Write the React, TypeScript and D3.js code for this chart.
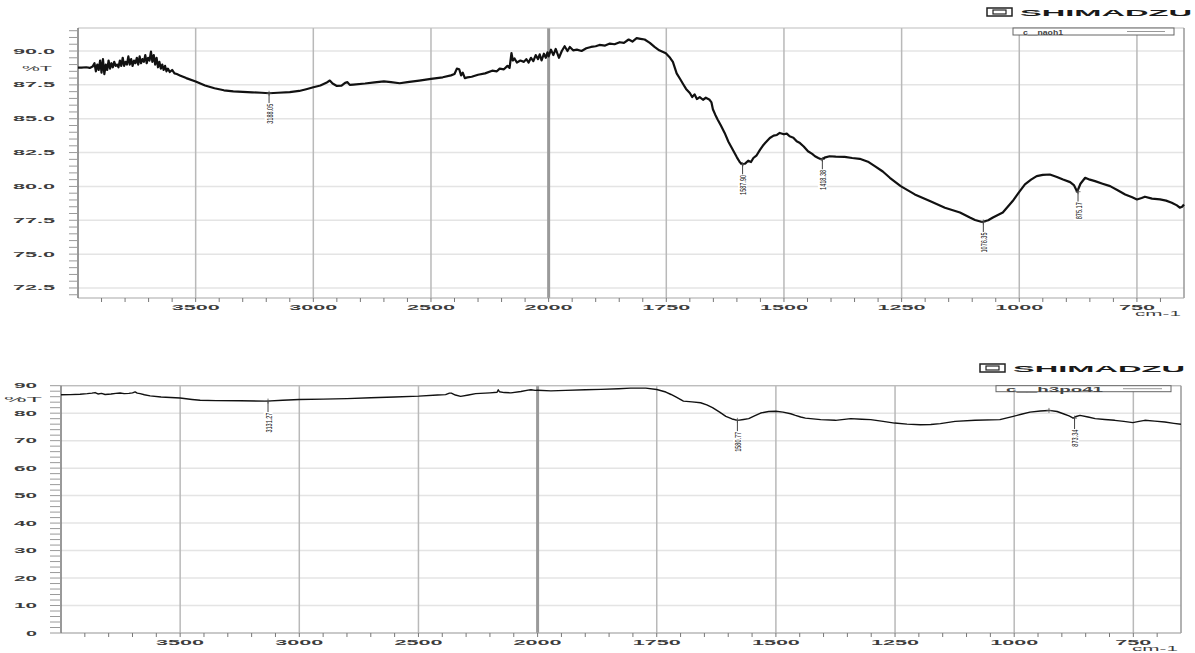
import { useEffect, useRef } from "react";
import * as d3 from "d3";

// FTIR prints (Shimadzu): [wavenumber cm-1, %T]
const naohSpectrum: [number, number][] = [
  [4000, 88.77], [3985, 88.78], [3965, 88.8], [3950, 88.75], [3938, 88.85],
  [3930, 89.1], [3924, 88.5], [3918, 89.0], [3912, 88.6], [3906, 89.3], [3900, 88.4],
  [3894, 89.4], [3888, 88.3], [3882, 89.0], [3876, 88.6], [3870, 89.3], [3864, 88.7],
  [3858, 89.1], [3852, 88.8], [3846, 89.2], [3840, 88.9], [3834, 89.0], [3828, 88.8],
  [3822, 89.3], [3816, 88.9], [3810, 89.5], [3804, 88.9], [3798, 89.2], [3792, 89.0],
  [3786, 89.6], [3780, 89.0], [3774, 89.4], [3768, 88.9], [3762, 89.3], [3756, 89.1],
  [3750, 89.5], [3744, 89.0], [3738, 89.6], [3732, 89.1], [3726, 89.4], [3720, 89.2],
  [3714, 89.7], [3708, 89.1], [3702, 89.5], [3696, 89.3], [3690, 89.95], [3684, 89.2],
  [3678, 89.7], [3672, 89.0], [3666, 89.5], [3660, 88.8], [3654, 89.2], [3648, 88.7],
  [3642, 89.0], [3636, 88.6], [3630, 88.9], [3624, 88.5], [3618, 88.7], [3610, 88.45],
  [3600, 88.6], [3590, 88.35], [3580, 88.3], [3567, 88.2], [3540, 88.0], [3500, 87.75],
  [3460, 87.45], [3420, 87.25], [3380, 87.1], [3340, 87.02], [3300, 86.98], [3260, 86.95],
  [3220, 86.92], [3188, 86.88], [3150, 86.92], [3100, 86.96], [3060, 87.05], [3030, 87.18],
  [3000, 87.32], [2970, 87.45], [2945, 87.65], [2930, 87.82], [2918, 87.6], [2900, 87.42],
  [2880, 87.45], [2865, 87.65], [2855, 87.7], [2845, 87.5], [2830, 87.52], [2780, 87.6],
  [2740, 87.68], [2700, 87.76], [2670, 87.7], [2633, 87.62], [2600, 87.7], [2550, 87.82],
  [2500, 87.94], [2450, 88.06], [2415, 88.2], [2400, 88.3], [2390, 88.7], [2380, 88.65],
  [2372, 88.2], [2365, 88.4], [2356, 88.0], [2345, 88.05], [2327, 88.1], [2300, 88.25],
  [2270, 88.35], [2240, 88.55], [2220, 88.5], [2208, 88.7], [2190, 88.65], [2175, 88.9],
  [2166, 88.75], [2158, 89.85], [2152, 89.3], [2145, 89.45], [2135, 89.15], [2120, 89.3],
  [2105, 89.2], [2095, 89.4], [2085, 89.15], [2075, 89.5], [2065, 89.25], [2055, 89.7],
  [2045, 89.4], [2038, 89.75], [2030, 89.3], [2020, 89.8], [2012, 89.5], [2005, 89.9],
  [2000, 89.6], [1995, 90.1], [1990, 89.7], [1985, 90.15], [1978, 89.5], [1972, 90.0],
  [1966, 90.35], [1960, 90.0], [1955, 90.3], [1948, 90.05], [1940, 90.1], [1930, 90.0],
  [1920, 90.2], [1910, 90.3], [1900, 90.35], [1892, 90.45], [1880, 90.4], [1870, 90.55],
  [1860, 90.5], [1849, 90.65], [1840, 90.6], [1830, 90.85], [1822, 90.7], [1813, 90.95],
  [1805, 90.9], [1796, 90.85], [1785, 90.6], [1775, 90.3], [1765, 90.05], [1751, 89.83],
  [1742, 89.5], [1736, 89.2], [1728, 88.35], [1720, 87.9], [1715, 87.6], [1708, 87.2],
  [1700, 86.9], [1695, 86.6], [1690, 86.8], [1685, 86.45], [1679, 86.6], [1672, 86.4],
  [1666, 86.55], [1658, 86.4], [1654, 86.2], [1651, 85.7], [1646, 85.3], [1641, 84.95],
  [1634, 84.5], [1626, 83.95], [1618, 83.3], [1609, 82.72], [1600, 82.15], [1594, 81.8],
  [1588, 81.62], [1582, 81.7], [1576, 81.9], [1570, 81.8], [1565, 82.1], [1558, 82.3],
  [1551, 82.7], [1545, 83.0], [1540, 83.2], [1530, 83.58], [1522, 83.75], [1515, 83.8],
  [1509, 83.95], [1500, 83.85], [1494, 83.9], [1488, 83.7], [1480, 83.6], [1473, 83.33],
  [1466, 83.2], [1458, 82.95], [1449, 82.6], [1440, 82.4], [1434, 82.23], [1427, 82.1],
  [1420, 81.99], [1412, 82.15], [1403, 82.23], [1390, 82.2], [1371, 82.18], [1355, 82.1],
  [1339, 82.04], [1320, 81.8], [1307, 81.5], [1290, 81.1], [1275, 80.64], [1252, 80.02],
  [1222, 79.41], [1190, 78.92], [1158, 78.43], [1126, 78.07], [1105, 77.7], [1094, 77.52],
  [1079, 77.37], [1066, 77.5], [1056, 77.7], [1035, 78.07], [1014, 78.92], [1000, 79.6],
  [988, 80.15], [975, 80.5], [963, 80.76], [950, 80.85], [935, 80.88], [920, 80.7],
  [907, 80.51], [892, 80.32], [884, 80.1], [877, 79.61], [870, 80.2], [860, 80.64],
  [850, 80.5], [839, 80.39], [823, 80.2], [807, 80.02], [790, 79.7], [775, 79.41],
  [760, 79.2], [750, 79.04], [740, 79.15], [733, 79.24], [718, 79.1], [701, 79.04],
  [688, 78.95], [676, 78.8], [665, 78.6], [659, 78.43], [654, 78.5], [650, 78.67],
];

const h3po4Spectrum: [number, number][] = [
  [4000, 86.7], [3960, 86.75], [3920, 86.9], [3890, 87.1], [3870, 87.3], [3857, 87.5],
  [3845, 87.0], [3830, 87.2], [3815, 86.8], [3790, 87.0], [3770, 87.2], [3752, 87.35],
  [3735, 87.1], [3715, 87.2], [3700, 87.4], [3689, 87.75], [3680, 87.3], [3668, 87.1],
  [3650, 86.7], [3626, 86.3], [3580, 85.9], [3540, 85.7], [3500, 85.5], [3450, 85.0],
  [3416, 84.7], [3350, 84.55], [3247, 84.5], [3138, 84.4], [3070, 84.7], [3000, 85.0],
  [2900, 85.1], [2800, 85.3], [2700, 85.6], [2600, 85.9], [2499, 86.2], [2420, 86.6],
  [2386, 86.75], [2370, 87.3], [2362, 87.3], [2345, 86.6], [2323, 86.1], [2290, 86.6],
  [2260, 87.1], [2200, 87.4], [2170, 87.6], [2165, 88.5], [2160, 87.8], [2140, 87.5],
  [2112, 87.4], [2070, 87.9], [2040, 88.4], [2028, 88.55], [2010, 88.3], [2000, 88.35],
  [1972, 88.1], [1941, 88.3], [1900, 88.5], [1867, 88.66], [1830, 88.9], [1805, 89.1],
  [1773, 89.1], [1750, 88.6], [1731, 87.7], [1720, 86.8], [1710, 85.9], [1694, 84.4],
  [1676, 84.1], [1658, 83.8], [1645, 83.0], [1633, 82.0], [1618, 80.4], [1605, 78.85],
  [1592, 77.9], [1580, 77.4], [1568, 77.7], [1557, 78.0], [1545, 79.0], [1532, 80.06],
  [1515, 80.6], [1500, 80.7], [1485, 80.4], [1469, 79.8], [1459, 79.2], [1448, 78.6],
  [1438, 78.2], [1406, 77.65], [1375, 77.4], [1343, 78.0], [1320, 77.8], [1301, 77.65],
  [1275, 77.0], [1251, 76.4], [1225, 76.0], [1197, 75.8], [1175, 75.9], [1155, 76.2],
  [1124, 77.0], [1082, 77.4], [1030, 77.65], [1002, 78.85], [985, 79.6], [967, 80.4],
  [945, 80.8], [927, 81.0], [910, 80.6], [897, 79.8], [885, 79.0], [876, 78.2],
  [870, 78.8], [862, 79.2], [845, 78.6], [830, 78.0], [810, 77.7], [789, 77.4],
  [770, 77.0], [751, 76.56], [738, 77.0], [726, 77.4], [705, 77.1], [684, 76.8],
  [665, 76.3], [650, 75.95],
];

// peak picks (label text is the wavenumber)
const naohPeakLabels = ["3188.05", "1587.90", "1418.38", "1076.35", "875.17"];
const naohPeakT = [86.88, 81.62, 81.99, 77.37, 79.61];
const h3po4PeakLabels = ["3131.27", "1580.77", "873.34"];
const h3po4PeakT = [84.4, 77.4, 78.2];
const h3po4ExtraMarks: [number, number][] = [[927, 81.0]];

const wnBreaks = [4000, 2000, 650];
const wnTicks = [3500, 3000, 2500, 2000, 1750, 1500, 1250, 1000, 750];
const naohTicks = [72.5, 75.0, 77.5, 80.0, 82.5, 85.0, 87.5, 90.0];
const h3po4Ticks = [0, 10, 20, 30, 40, 50, 60, 70, 80, 90];

const W = 1195;
const H = 653;
const axisFont = "'Liberation Sans', Arial, sans-serif";

type Panel = {
  data: [number, number][];
  labels: string[];
  peakT: number[];
  extra: [number, number][];
  legend: string;
  left: number; right: number; top: number; bottom: number;
  yDomain: [number, number];
  yTicks: number[];
  yMinor: number;
  fmt: (v: number) => string;
  yLabelX: number;
  tickLen: number;
  pctT: { x: number; y: number; w: number };
  logo: { x: number; y: number };
  legendBox: { x0: number; x1: number; h: number; textW: number; line: [number, number] };
  lineW: number;
  leader: number;
};

const panels: Panel[] = [
  {
    data: naohSpectrum, labels: naohPeakLabels, peakT: naohPeakT, extra: [],
    legend: "c__naoh1",
    left: 78, right: 1184, top: 28, bottom: 298,
    yDomain: [71.76, 91.7], yTicks: naohTicks, yMinor: 0.5, fmt: d3.format(".1f"),
    yLabelX: 55, tickLen: 9,
    pctT: { x: 22, y: 68, w: 30 },
    logo: { x: 987, y: 12 },
    legendBox: { x0: 1013, x1: 1174, h: 7, textW: 40, line: [1127, 1165] },
    lineW: 2.2, leader: 10,
  },
  {
    data: h3po4Spectrum, labels: h3po4PeakLabels, peakT: h3po4PeakT, extra: h3po4ExtraMarks,
    legend: "c__h3po41",
    left: 61, right: 1181, top: 385.7, bottom: 633,
    yDomain: [0, 90], yTicks: h3po4Ticks, yMinor: 2, fmt: d3.format("d"),
    yLabelX: 37, tickLen: 11,
    pctT: { x: 4, y: 399, w: 38 },
    logo: { x: 980, y: 368 },
    legendBox: { x0: 996, x1: 1171, h: 6, textW: 97, line: [1123, 1162] },
    lineW: 1.4, leader: 11,
  },
];

function stretchedText(g: any, txt: string, x: number, y: number, w: number, anchor = "middle") {
  return g.append("text")
    .attr("x", x).attr("y", y)
    .attr("text-anchor", anchor)
    .attr("dominant-baseline", "central")
    .attr("font-family", axisFont)
    .attr("font-weight", "bold")
    .attr("font-size", 7)
    .attr("fill", "#3c3c3c")
    .attr("textLength", w)
    .attr("lengthAdjust", "spacingAndGlyphs")
    .text(txt);
}

function drawPanel(svg: any, p: Panel) {
  const g = svg.append("g");
  const split = p.left + ((p.right - p.left) * 1000) / 2350; // 4000-2000 at half scale
  const x = d3.scaleLinear().domain(wnBreaks).range([p.left, split, p.right]);
  const y = d3.scaleLinear().domain(p.yDomain).range([p.bottom, p.top]);

  // horizontal grid
  g.selectAll(".hgrid").data(p.yTicks).enter().append("line")
    .attr("x1", p.left).attr("x2", p.right)
    .attr("y1", (d: number) => y(d)).attr("y2", (d: number) => y(d))
    .attr("stroke", "#e4e4e4").attr("stroke-width", 1.5);

  // vertical grid
  g.selectAll(".vgrid").data(wnTicks).enter().append("line")
    .attr("x1", (d: number) => x(d)).attr("x2", (d: number) => x(d))
    .attr("y1", p.top).attr("y2", p.bottom)
    .attr("stroke", (d: number) => (d === 2000 ? "#9a9a9a" : "#b9b9b9"))
    .attr("stroke-width", (d: number) => (d === 2000 ? 3 : 1.5));

  // frame
  g.append("line").attr("x1", p.left).attr("x2", p.right).attr("y1", p.top).attr("y2", p.top)
    .attr("stroke", "#bdbdbd").attr("stroke-width", 1.2);
  g.append("line").attr("x1", p.right).attr("x2", p.right).attr("y1", p.top).attr("y2", p.bottom)
    .attr("stroke", "#999").attr("stroke-width", 1.5);
  g.append("line").attr("x1", p.left).attr("x2", p.right).attr("y1", p.bottom).attr("y2", p.bottom)
    .attr("stroke", "#a8a8a8").attr("stroke-width", 1.2);
  g.append("line").attr("x1", p.left).attr("x2", p.left).attr("y1", p.top).attr("y2", p.bottom)
    .attr("stroke", "#777").attr("stroke-width", 1.5);

  // y ticks, every minor step
  const yMinorTicks = d3.range(Math.ceil(p.yDomain[0] / p.yMinor) * p.yMinor, p.yDomain[1] + 1e-6, p.yMinor);
  g.selectAll(".ytick").data(yMinorTicks).enter().append("line")
    .attr("x1", p.left - p.tickLen).attr("x2", p.left)
    .attr("y1", (d: number) => y(d)).attr("y2", (d: number) => y(d))
    .attr("stroke", "#9a9a9a").attr("stroke-width", 1);

  p.yTicks.forEach((t) => {
    const s = p.fmt(t);
    stretchedText(g, s, p.yLabelX, y(t), s.replace(".", "").length * 12 + (s.includes(".") ? 7 : 0) - 1, "end");
  });
  stretchedText(g, "%T", p.pctT.x, p.pctT.y, p.pctT.w, "start").attr("font-weight", "normal");

  // x ticks: 100 above 2000, 50 below
  const xMinor = d3.range(3900, 2000, -100).concat(d3.range(2000, 650, -50));
  g.selectAll(".xtick").data(xMinor).enter().append("line")
    .attr("x1", (d: number) => x(d)).attr("x2", (d: number) => x(d))
    .attr("y1", p.bottom).attr("y2", p.bottom + 4)
    .attr("stroke", "#777").attr("stroke-width", 1);

  wnTicks.forEach((t) => {
    const s = String(t);
    stretchedText(g, s, x(t), p.bottom + 9, s.length * 12);
  });
  stretchedText(g, "cm-1", p.right - 26, p.bottom + 15, 46).attr("font-weight", "normal");

  // spectrum
  const line = d3.line<[number, number]>().x((d) => x(d[0])).y((d) => y(d[1]));
  g.append("path").datum(p.data)
    .attr("d", line)
    .attr("fill", "none")
    .attr("stroke", "#111")
    .attr("stroke-width", p.lineW)
    .attr("stroke-linejoin", "round");

  // peak picks
  const cross = (cx: number, cy: number) => {
    g.append("line").attr("x1", cx - 2.5).attr("x2", cx + 2.5).attr("y1", cy).attr("y2", cy)
      .attr("stroke", "#555").attr("stroke-width", 0.8);
    g.append("line").attr("x1", cx).attr("x2", cx).attr("y1", cy - 2.5).attr("y2", cy + 2.5)
      .attr("stroke", "#555").attr("stroke-width", 0.8);
  };
  p.labels.forEach((lab, i) => {
    const px = x(parseFloat(lab));
    const py = y(p.peakT[i]);
    const len = lab.length * 2.85;
    cross(px, py);
    g.append("line").attr("x1", px).attr("x2", px).attr("y1", py).attr("y2", py + p.leader)
      .attr("stroke", "#444").attr("stroke-width", 1);
    g.append("rect").attr("x", px - 4.5).attr("y", py + p.leader).attr("width", 9).attr("height", len + 1)
      .attr("fill", "#fff");
    g.append("text")
      .attr("transform", `translate(${px},${py + p.leader + 0.5}) rotate(-90)`)
      .attr("text-anchor", "end")
      .attr("dominant-baseline", "central")
      .attr("font-family", "'Liberation Sans Narrow', 'Liberation Sans', sans-serif")
      .attr("font-size", 9.5)
      .attr("fill", "#111")
      .attr("textLength", len)
      .attr("lengthAdjust", "spacingAndGlyphs")
      .text(lab);
  });
  p.extra.forEach(([wn, t]) => cross(x(wn), y(t)));

  // legend box
  const lb = p.legendBox;
  g.append("rect").attr("x", lb.x0).attr("y", p.top).attr("width", lb.x1 - lb.x0).attr("height", lb.h)
    .attr("fill", "#fff").attr("stroke", "#666").attr("stroke-width", 1);
  g.append("text")
    .attr("x", lb.x0 + 10).attr("y", p.top + lb.h / 2 + 0.5)
    .attr("dominant-baseline", "central")
    .attr("font-family", axisFont).attr("font-weight", "bold").attr("font-size", 7).attr("fill", "#444")
    .attr("textLength", lb.textW).attr("lengthAdjust", "spacingAndGlyphs")
    .text(p.legend);
  g.append("line").attr("x1", lb.line[0]).attr("x2", lb.line[1])
    .attr("y1", p.top + lb.h / 2).attr("y2", p.top + lb.h / 2)
    .attr("stroke", "#999").attr("stroke-width", 1);

  // maker logo
  const lg = p.logo;
  g.append("rect").attr("x", lg.x).attr("y", lg.y - 4).attr("width", 25).attr("height", 8)
    .attr("fill", "none").attr("stroke", "#222").attr("stroke-width", 1.5);
  g.append("rect").attr("x", lg.x + 6).attr("y", lg.y - 2).attr("width", 13).attr("height", 4)
    .attr("fill", "none").attr("stroke", "#222").attr("stroke-width", 1.2);
  g.append("text")
    .attr("x", lg.x + 33).attr("y", lg.y + 0.5)
    .attr("dominant-baseline", "central")
    .attr("font-family", axisFont).attr("font-weight", "bold").attr("font-size", 8.5)
    .attr("fill", "#1a1a1a")
    .attr("textLength", 172).attr("lengthAdjust", "spacingAndGlyphs")
    .text("SHIMADZU");
}

export default function App() {
  const svgRef = useRef<SVGSVGElement | null>(null);

  useEffect(() => {
    if (!svgRef.current) return;
    const svg = d3.select(svgRef.current);
    svg.selectAll("*").remove();
    svg.append("rect").attr("width", W).attr("height", H).attr("fill", "#fff");
    panels.forEach((p) => drawPanel(svg, p));
  }, []);

  return (
    <svg
      ref={svgRef}
      width={W}
      height={H}
      viewBox={`0 0 ${W} ${H}`}
      style={{ position: "absolute", left: 0, top: 0, display: "block" }}
    />
  );
}
